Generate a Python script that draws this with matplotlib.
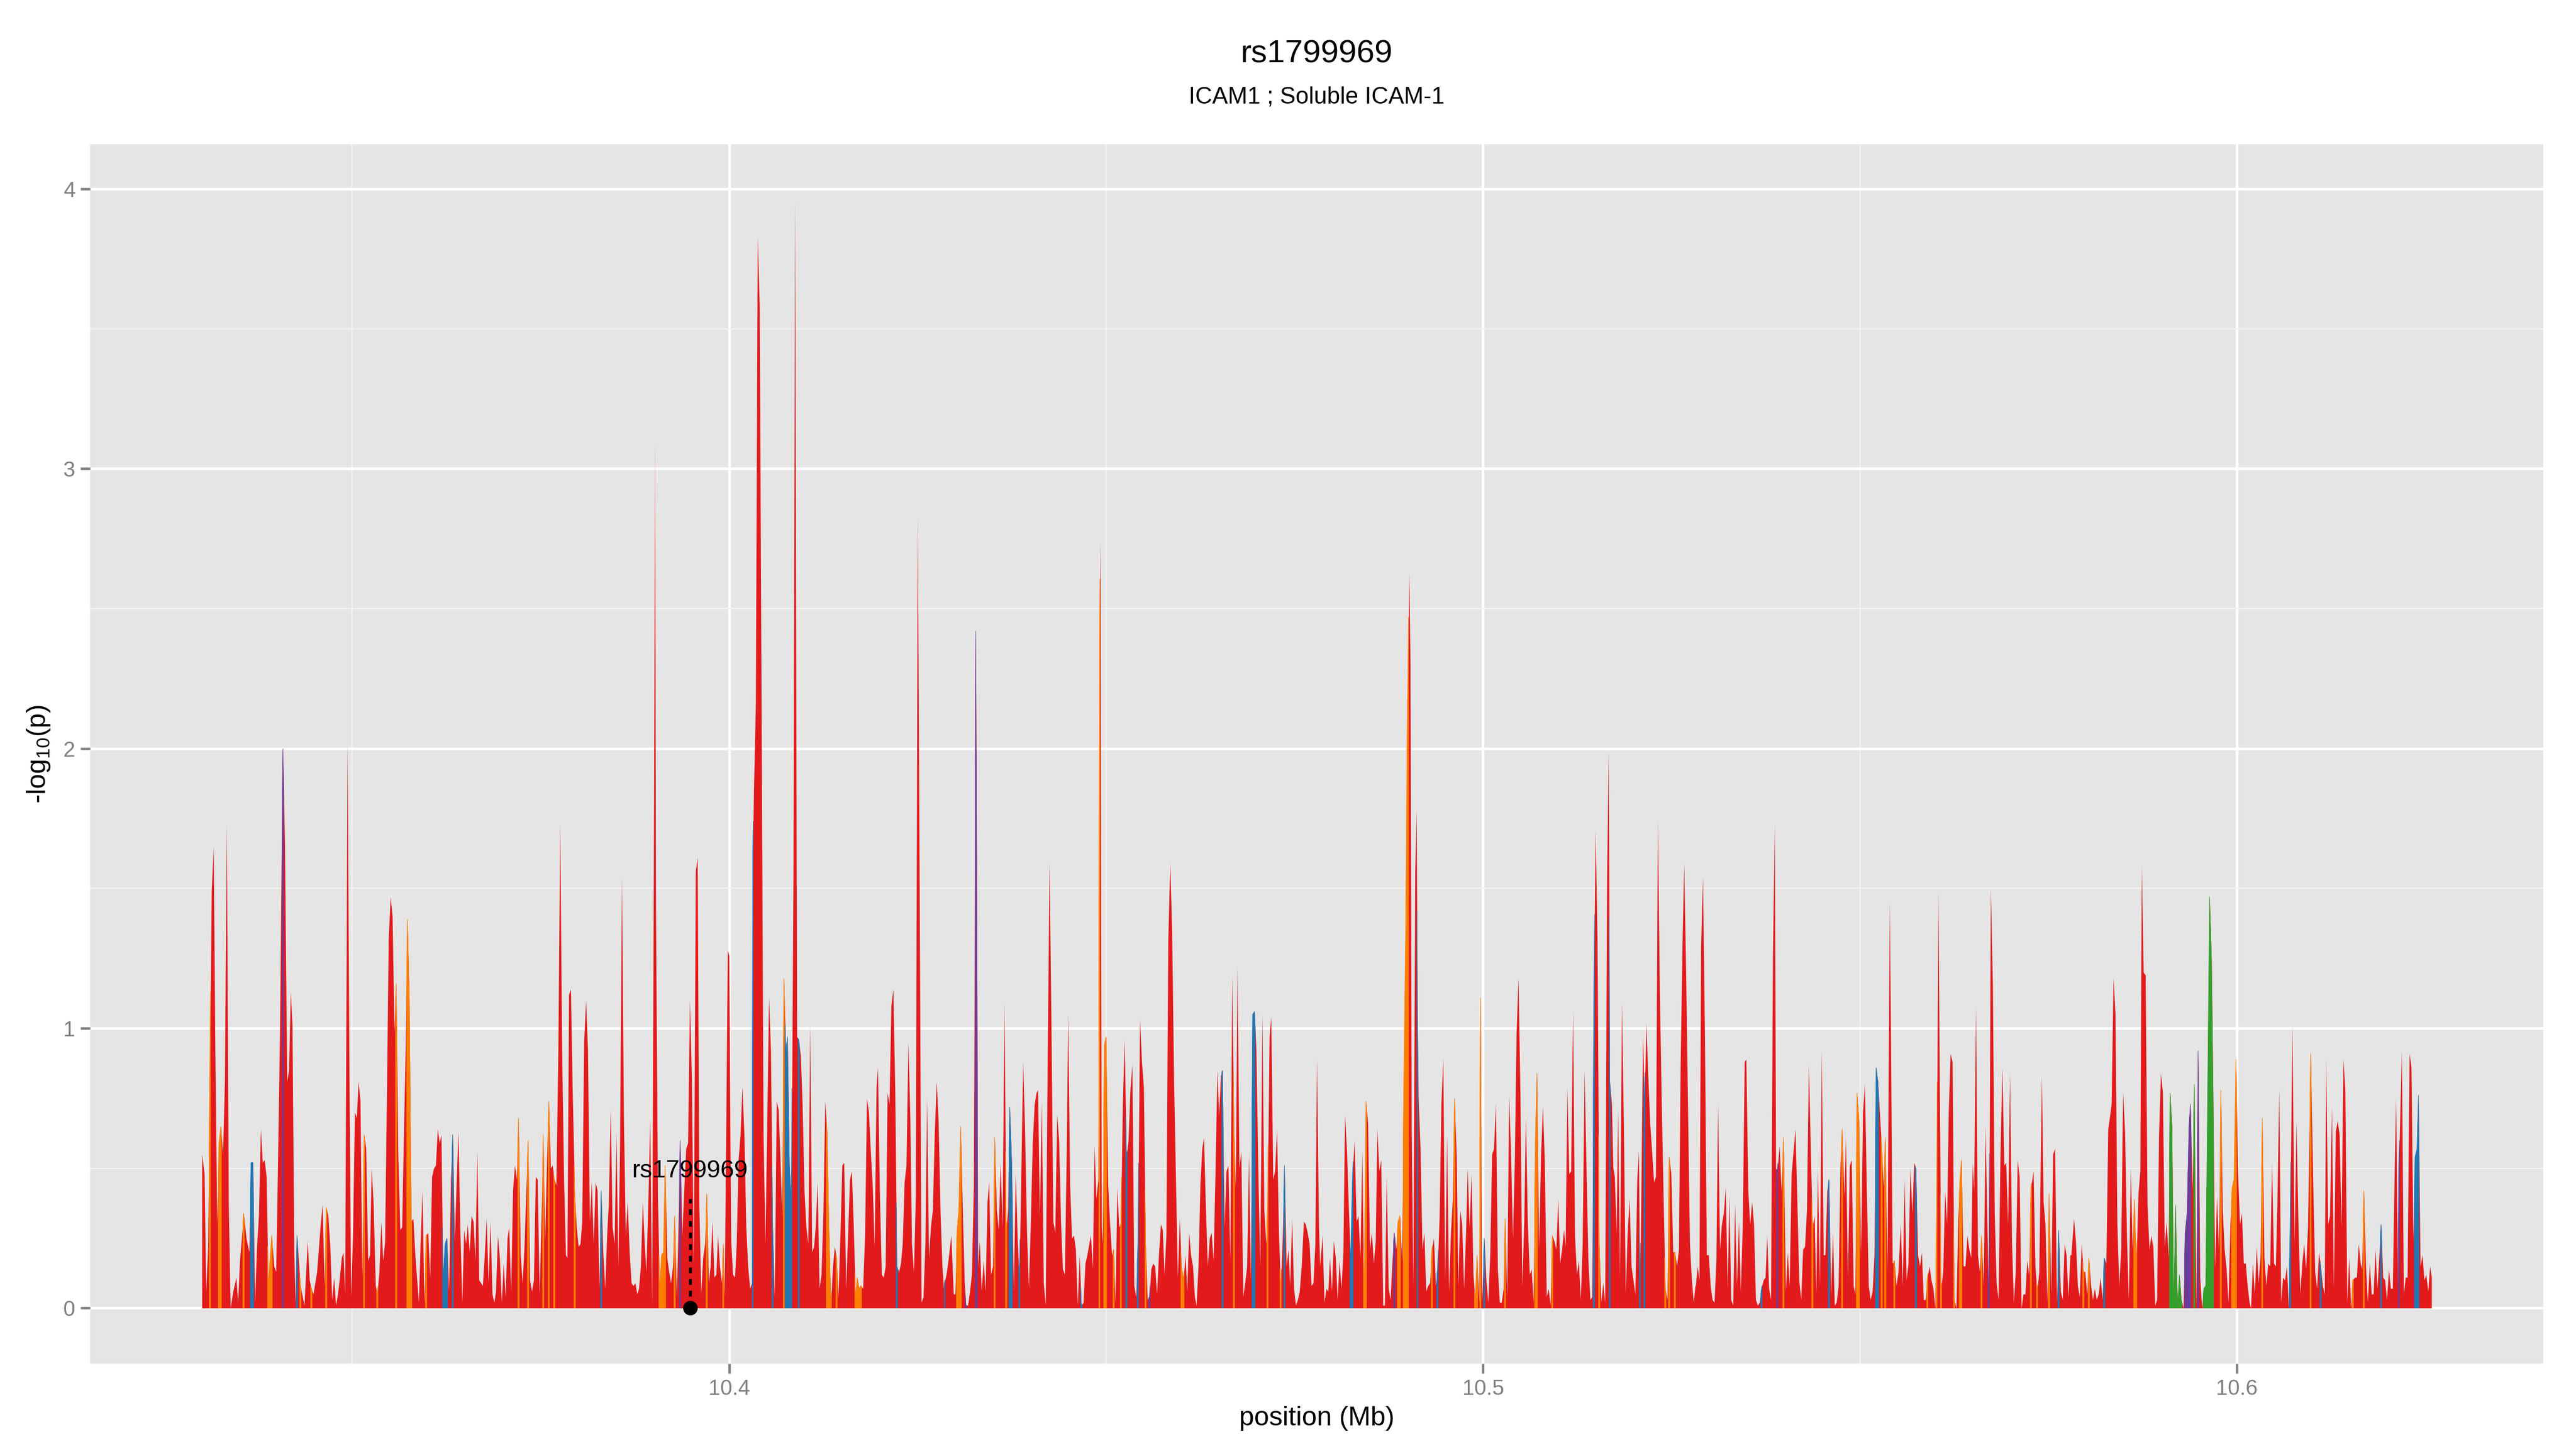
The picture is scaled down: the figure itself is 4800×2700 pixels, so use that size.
import numpy as np
import matplotlib.pyplot as plt
from matplotlib.ticker import MultipleLocator

plt.rcParams['font.family'] = ['Liberation Sans', 'DejaVu Sans']
plt.rcParams['mathtext.default'] = 'regular'

title = "rs1799969"
subtitle = "ICAM1 ; Soluble ICAM-1"
snp_label = "rs1799969"
snp_kb = 10394.80
x_ticks = [10.4, 10.5, 10.6]
y_ticks = [0, 1, 2, 3, 4]

# snp positions (kb) and -log10(p)
position_kb = [
    # 10.330 - 10.379
    10330.05, 10330.37, 10330.59, 10330.85, 10331.10, 10331.32, 10331.58, 10331.80, 10332.05, 10332.31,
    10332.56, 10332.82, 10333.07, 10333.32, 10333.58, 10333.83, 10334.18, 10334.59, 10334.82, 10335.07,
    10335.29, 10335.58, 10335.93, 10336.31, 10336.56, 10336.82, 10337.07, 10337.33, 10337.58, 10337.84,
    10338.09, 10338.34, 10338.60, 10338.85, 10339.30, 10339.61, 10339.87, 10340.12, 10340.38, 10340.63,
    10340.79, 10341.04, 10341.33, 10341.58, 10341.81, 10342.03, 10342.28, 10342.44, 10342.66, 10343.11,
    10343.62, 10344.06, 10344.32, 10344.57, 10344.82, 10345.30, 10345.78, 10346.03, 10346.29, 10346.54,
    10346.79, 10347.05, 10347.30, 10347.56, 10347.81, 10348.07, 10348.32, 10348.57, 10348.80, 10349.02,
    10349.34, 10349.59, 10349.81, 10350.06, 10350.32, 10350.57, 10350.80, 10351.05, 10351.30, 10351.56,
    10351.81, 10352.07, 10352.32, 10352.54, 10352.80, 10353.08, 10353.31, 10353.56, 10353.82, 10354.07,
    10354.32, 10354.55, 10354.80, 10355.06, 10355.31, 10355.56, 10355.82, 10356.07, 10356.33, 10356.58,
    10356.83, 10357.06, 10357.31, 10357.56, 10357.82, 10358.07, 10358.33, 10358.55, 10358.80, 10359.06,
    10359.28, 10359.53, 10359.79, 10360.04, 10360.30, 10360.55, 10360.81, 10361.06, 10361.31, 10361.57,
    10361.79, 10362.04, 10362.30, 10362.55, 10362.81, 10363.06, 10363.32, 10363.57, 10363.82, 10364.05,
    10364.30, 10364.56, 10364.81, 10365.06, 10365.28, 10365.54, 10365.79, 10366.05, 10366.30, 10366.55,
    10366.81, 10367.06, 10367.29, 10367.54, 10367.79, 10368.05, 10368.30, 10368.56, 10368.81, 10369.03,
    10369.29, 10369.54, 10369.80, 10370.05, 10370.30, 10370.56, 10370.78, 10371.04, 10371.29, 10371.54,
    10371.80, 10372.05, 10372.31, 10372.56, 10372.81, 10373.07, 10373.32, 10373.55, 10373.80, 10374.06,
    10374.31, 10374.56, 10374.82, 10375.07, 10375.33, 10375.55, 10375.80, 10376.06, 10376.31, 10376.56,
    10376.79, 10377.04, 10377.30, 10377.55, 10377.80, 10378.06, 10378.31, 10378.50,
    # 10.379 - 10.428
    10378.72, 10378.97, 10379.20, 10379.51, 10379.74, 10379.99, 10380.24, 10380.47, 10380.72, 10380.98,
    10381.23, 10381.48, 10381.74, 10381.99, 10382.25, 10382.50, 10382.75, 10383.01, 10383.26, 10383.52,
    10383.77, 10383.99, 10384.25, 10384.50, 10384.76, 10385.01, 10385.26, 10385.49, 10385.74, 10386.00,
    10386.25, 10386.50, 10386.76, 10387.01, 10387.27, 10387.52, 10387.77, 10388.00, 10388.25, 10388.51,
    10388.76, 10388.98, 10389.24, 10389.49, 10389.74, 10390.00, 10390.13, 10390.25, 10390.51, 10390.76,
    10391.01, 10391.27, 10391.49, 10391.75, 10392.00, 10392.25, 10392.51, 10392.76, 10393.02, 10393.24,
    10393.49, 10393.75, 10394.00, 10394.26, 10394.51, 10394.76, 10395.02, 10395.27, 10395.53, 10395.78,
    10396.00, 10396.26, 10396.51, 10396.77, 10397.02, 10397.27, 10397.50, 10397.75, 10398.00, 10398.26,
    10398.48, 10398.74, 10398.99, 10399.21, 10399.37, 10399.78, 10399.97, 10400.23, 10400.48, 10400.74,
    10400.96, 10401.21, 10401.47, 10401.72, 10401.98, 10402.23, 10402.48, 10402.74, 10402.99, 10403.12,
    10403.25, 10403.50, 10403.75, 10404.01, 10404.26, 10404.52, 10404.77, 10404.99, 10405.25, 10405.50,
    10405.76, 10406.01, 10406.27, 10406.52, 10406.77, 10407.00, 10407.25, 10407.50, 10407.73, 10407.98,
    10408.23, 10408.49, 10408.71, 10408.97, 10409.22, 10409.47, 10409.70, 10409.95, 10410.20, 10410.46,
    10410.71, 10410.97, 10411.22, 10411.44, 10411.70, 10411.95, 10412.21, 10412.46, 10412.71, 10412.97,
    10413.22, 10413.48, 10413.73, 10413.98, 10414.24, 10414.46, 10414.72, 10414.97, 10415.22, 10415.48,
    10415.73, 10415.99, 10416.24, 10416.49, 10416.75, 10416.97, 10417.22, 10417.48, 10417.73, 10417.99,
    10418.24, 10418.50, 10418.75, 10419.00, 10419.26, 10419.51, 10419.70, 10419.96, 10420.21, 10420.47,
    10420.72, 10420.97, 10421.23, 10421.48, 10421.74, 10421.99, 10422.24, 10422.50, 10422.75, 10422.98,
    10423.23, 10423.48, 10423.74, 10423.99, 10424.21, 10424.47, 10424.72, 10424.98, 10425.23, 10425.48,
    10425.74, 10425.99, 10426.22, 10426.47, 10426.72, 10426.98, 10427.23, 10427.49, 10427.74, 10428.00,
    10428.25, 10428.50,
    # 10.428 - 10.478
    10428.54, 10428.79, 10429.05, 10429.30, 10429.43, 10429.75, 10429.97, 10430.22, 10430.45, 10430.70,
    10430.95, 10431.21, 10431.40, 10431.65, 10431.91, 10432.16, 10432.42, 10432.57, 10432.70, 10432.83,
    10432.99, 10433.21, 10433.46, 10433.72, 10433.97, 10434.23, 10434.45, 10434.70, 10434.96, 10435.21,
    10435.47, 10435.72, 10435.97, 10436.23, 10436.48, 10436.74, 10436.96, 10437.21, 10437.47, 10437.72,
    10437.98, 10438.23, 10438.48, 10438.74, 10438.96, 10439.21, 10439.47, 10439.72, 10439.98, 10440.23,
    10440.49, 10440.74, 10440.93, 10441.18, 10441.44, 10441.69, 10441.95, 10442.20, 10442.46, 10442.71,
    10442.96, 10443.22, 10443.47, 10443.73, 10443.98, 10444.23, 10444.49, 10444.74, 10444.93, 10445.19,
    10445.44, 10445.70, 10445.95, 10446.20, 10446.46, 10446.71, 10446.97, 10447.22, 10447.47, 10447.73,
    10447.95, 10448.21, 10448.43, 10448.68, 10448.94, 10449.13, 10449.22, 10449.38, 10449.51, 10449.76,
    10449.98, 10450.24, 10450.49, 10450.75, 10451.00, 10451.22, 10451.45, 10451.70, 10451.95, 10452.18,
    10452.43, 10452.69, 10452.94, 10453.19, 10453.45, 10453.70, 10453.96, 10454.21, 10454.46, 10454.72,
    10454.97, 10455.23, 10455.48, 10455.74, 10455.96, 10456.21, 10456.47, 10456.72, 10456.97, 10457.23,
    10457.48, 10457.71, 10457.96, 10458.21, 10458.47, 10458.72, 10458.98, 10459.23, 10459.48, 10459.74,
    10459.99, 10460.25, 10460.50, 10460.72, 10460.98, 10461.23, 10461.49, 10461.74, 10461.96, 10462.22,
    10462.47, 10462.72, 10462.95, 10463.20, 10463.45, 10463.71, 10463.96, 10464.22, 10464.47, 10464.73,
    10464.95, 10465.20, 10465.43, 10465.68, 10465.93, 10466.19, 10466.44, 10466.70, 10466.95, 10467.17,
    10467.39, 10467.65, 10467.90, 10468.16, 10468.41, 10468.67, 10468.92, 10469.17, 10469.43, 10469.68,
    10469.90, 10470.16, 10470.41, 10470.70, 10470.95, 10471.21, 10471.40, 10471.65, 10471.87, 10472.13,
    10472.38, 10472.64, 10472.89, 10473.15, 10473.40, 10473.65, 10473.91, 10474.16, 10474.38, 10474.64,
    10474.89, 10475.15, 10475.40, 10475.65, 10475.91, 10476.20, 10476.45, 10476.70, 10476.96, 10477.21,
    10477.47, 10477.72, 10477.94, 10478.20,
    # 10.478 - 10.528
    10478.36, 10478.68, 10478.93, 10479.19, 10479.44, 10479.66, 10479.92, 10480.17, 10480.43, 10480.68,
    10480.93, 10481.19, 10481.44, 10481.66, 10481.92, 10482.17, 10482.43, 10482.68, 10482.93, 10483.19,
    10483.44, 10483.70, 10483.95, 10484.21, 10484.46, 10484.71, 10484.97, 10485.22, 10485.48, 10485.73,
    10485.95, 10486.21, 10486.46, 10486.72, 10486.94, 10487.19, 10487.45, 10487.70, 10487.95, 10488.21,
    10488.46, 10488.72, 10488.97, 10489.23, 10489.48, 10489.73, 10489.92, 10490.05, 10490.18, 10490.34,
    10490.50, 10490.72, 10490.97, 10491.16, 10491.29, 10491.42, 10491.67, 10491.93, 10492.18, 10492.43,
    10492.69, 10492.94, 10493.20, 10493.45, 10493.71, 10493.96, 10494.21, 10494.44, 10494.69, 10494.94,
    10495.20, 10495.45, 10495.71, 10495.96, 10496.21, 10496.47, 10496.69, 10496.95, 10497.20, 10497.45,
    10497.71, 10497.93, 10498.18, 10498.44, 10498.69, 10498.95, 10499.20, 10499.46, 10499.65, 10499.84,
    10500.15, 10500.41, 10500.66, 10500.92, 10501.17, 10501.42, 10501.68, 10501.93, 10502.19, 10502.44,
    10502.70, 10502.92, 10503.17, 10503.43, 10503.68, 10503.93, 10504.19, 10504.41, 10504.67, 10504.92,
    10505.17, 10505.43, 10505.65, 10505.90, 10506.16, 10506.41, 10506.67, 10506.92, 10507.14, 10507.40,
    10507.65, 10507.91, 10508.16, 10508.41, 10508.67, 10508.92, 10509.18, 10509.43, 10509.69, 10509.94,
    10510.19, 10510.45, 10510.70, 10510.92, 10511.15, 10511.40, 10511.65, 10511.91, 10512.16, 10512.42,
    10512.67, 10512.93, 10513.18, 10513.43, 10513.69, 10513.94, 10514.20, 10514.45, 10514.70, 10514.90,
    10515.15, 10515.40, 10515.66, 10515.91, 10516.17, 10516.42, 10516.64, 10516.80, 10517.06, 10517.25,
    10517.44, 10517.69, 10517.88, 10518.14, 10518.39, 10518.65, 10518.90, 10519.15, 10519.41, 10519.66,
    10519.92, 10520.17, 10520.42, 10520.65, 10520.80, 10521.19, 10521.41, 10521.63, 10521.88, 10522.14,
    10522.39, 10522.65, 10522.90, 10523.16, 10523.41, 10523.66, 10523.92, 10524.17, 10524.43, 10524.68,
    10524.94, 10525.19, 10525.44, 10525.70, 10525.95, 10526.17, 10526.43, 10526.65, 10526.90, 10527.16,
    10527.41, 10527.67, 10527.92, 10528.14,
    # 10.528 - 10.578
    10528.19, 10528.44, 10528.67, 10528.89, 10529.14, 10529.40, 10529.65, 10529.91, 10530.16, 10530.41,
    10530.67, 10530.92, 10531.14, 10531.40, 10531.65, 10531.91, 10532.16, 10532.42, 10532.64, 10532.89,
    10533.15, 10533.40, 10533.65, 10533.91, 10534.16, 10534.42, 10534.67, 10534.89, 10535.15, 10535.40,
    10535.66, 10535.91, 10536.16, 10536.42, 10536.67, 10536.93, 10537.18, 10537.44, 10537.66, 10537.91,
    10538.17, 10538.42, 10538.67, 10538.83, 10539.02, 10539.31, 10539.56, 10539.85, 10540.14, 10540.39,
    10540.64, 10540.90, 10541.15, 10541.41, 10541.66, 10541.91, 10542.17, 10542.42, 10542.68, 10542.93,
    10543.19, 10543.44, 10543.69, 10543.95, 10544.17, 10544.39, 10544.65, 10544.90, 10545.15, 10545.38,
    10545.63, 10545.89, 10546.14, 10546.39, 10546.62, 10546.87, 10547.13, 10547.38, 10547.63, 10547.89,
    10548.11, 10548.36, 10548.62, 10548.87, 10549.13, 10549.35, 10549.60, 10549.86, 10550.11, 10550.37,
    10550.62, 10550.87, 10551.13, 10551.38, 10551.64, 10551.89, 10552.14, 10552.37, 10552.62, 10552.88,
    10553.13, 10553.35, 10553.61, 10553.80, 10553.92, 10554.08, 10554.30, 10554.56, 10554.81, 10555.07,
    10555.38, 10555.64, 10555.89, 10556.15, 10556.40, 10556.66, 10556.91, 10557.16, 10557.42, 10557.67,
    10557.93, 10558.18, 10558.43, 10558.69, 10558.94, 10559.20, 10559.45, 10559.71, 10559.96, 10560.15,
    10560.37, 10560.56, 10560.75, 10561.01, 10561.26, 10561.52, 10561.74, 10561.99, 10562.25, 10562.50,
    10562.76, 10563.01, 10563.26, 10563.45, 10563.71, 10563.96, 10564.22, 10564.47, 10564.73, 10564.92,
    10565.11, 10565.36, 10565.62, 10565.87, 10566.12, 10566.38, 10566.63, 10566.89, 10567.08, 10567.33,
    10567.59, 10567.84, 10568.09, 10568.35, 10568.60, 10568.86, 10569.11, 10569.36, 10569.62, 10569.87,
    10570.13, 10570.38, 10570.63, 10570.89, 10571.14, 10571.40, 10571.65, 10571.91, 10572.16, 10572.41,
    10572.67, 10572.99, 10573.24, 10573.49, 10573.75, 10574.10, 10574.32, 10574.57, 10574.83, 10575.08,
    10575.34, 10575.59, 10575.85, 10576.10, 10576.35, 10576.61, 10576.86, 10577.12, 10577.37, 10577.62,
    10577.88,
    # 10.578 - 10.626
    10578.01, 10578.36, 10578.61, 10578.87, 10579.12, 10579.38, 10579.63, 10579.85, 10580.11, 10580.36,
    10580.62, 10580.87, 10581.12, 10581.38, 10581.63, 10581.89, 10582.14, 10582.39, 10582.65, 10582.90,
    10583.16, 10583.35, 10583.60, 10583.86, 10584.11, 10584.36, 10584.62, 10584.87, 10585.13, 10585.38,
    10585.63, 10585.89, 10586.14, 10586.40, 10586.65, 10586.91, 10587.16, 10587.35, 10587.60, 10587.86,
    10588.11, 10588.37, 10588.62, 10588.88, 10589.13, 10589.38, 10589.64, 10589.89, 10590.15, 10590.40,
    10590.65, 10590.91, 10591.13, 10591.38, 10591.61, 10591.86, 10592.12, 10592.37, 10592.62, 10592.88,
    10593.13, 10593.39, 10593.64, 10593.83, 10594.09, 10594.34, 10594.59, 10594.85, 10595.10, 10595.36,
    10595.61, 10595.86, 10596.12, 10596.37, 10596.63, 10596.82, 10597.07, 10597.33, 10597.58, 10597.87,
    10598.09, 10598.34, 10598.60, 10598.85, 10599.11, 10599.36, 10599.61, 10599.87, 10600.12, 10600.38,
    10600.63, 10600.88, 10601.14, 10601.39, 10601.65, 10601.84, 10602.09, 10602.35, 10602.60, 10602.85,
    10603.11, 10603.36, 10603.62, 10603.87, 10604.12, 10604.38, 10604.63, 10604.89, 10605.14, 10605.33,
    10605.59, 10605.84, 10606.09, 10606.35, 10606.60, 10606.86, 10607.05, 10607.33, 10607.62, 10607.87,
    10608.13, 10608.38, 10608.64, 10608.89, 10609.14, 10609.40, 10609.78, 10610.10, 10610.35, 10610.61,
    10610.86, 10611.11, 10611.37, 10611.62, 10611.81, 10612.07, 10612.32, 10612.58, 10612.83, 10613.08,
    10613.34, 10613.59, 10613.85, 10614.10, 10614.35, 10614.61, 10614.86, 10615.12, 10615.37, 10615.63,
    10615.88, 10616.13, 10616.39, 10616.58, 10616.83, 10617.09, 10617.34, 10617.60, 10617.85, 10618.10,
    10618.36, 10618.61, 10618.87, 10619.12, 10619.37, 10619.63, 10619.88, 10620.14, 10620.39, 10620.65,
    10620.90, 10621.09, 10621.34, 10621.47, 10621.85, 10622.11, 10622.36, 10622.61, 10622.87, 10623.12,
    10623.38, 10623.63, 10623.89, 10624.08, 10624.33, 10624.59, 10624.84, 10625.09, 10625.35, 10625.60,
    10625.82,
]

neg_log10_p = [
    # 10.330 - 10.379
    0.55, 0.48, 0.06, 0.22, 0.88, 1.49, 1.65, 0.92, 0.30, 0.59,
    0.65, 0.55, 0.81, 1.73, 0.37, 0.00, 0.06, 0.11, 0.02, 0.17,
    0.24, 0.34, 0.25, 0.20, 0.52, 0.52, 0.02, 0.22, 0.33, 0.64,
    0.52, 0.53, 0.47, 0.08, 0.26, 0.15, 0.13, 0.53, 0.99, 1.71,
    2.00, 1.65, 0.81, 0.85, 1.13, 1.01, 0.19, 0.02, 0.26, 0.08,
    0.01, 0.24, 0.10, 0.07, 0.05, 0.13, 0.30, 0.37, 0.08, 0.36,
    0.33, 0.22, 0.03, 0.11, 0.01, 0.05, 0.11, 0.18, 0.20, 0.05,
    2.02, 0.83, 0.04, 0.26, 0.70, 0.68, 0.81, 0.74, 0.11, 0.62,
    0.57, 0.17, 0.19, 0.50, 0.37, 0.08, 0.05, 0.13, 0.31, 0.17,
    0.24, 0.74, 1.32, 1.47, 1.40, 0.99, 1.16, 0.55, 0.28, 0.29,
    0.64, 0.94, 1.39, 1.10, 0.31, 0.32, 0.19, 0.11, 0.02, 0.26,
    0.42, 0.02, 0.26, 0.27, 0.11, 0.47, 0.50, 0.51, 0.64, 0.59,
    0.62, 0.10, 0.23, 0.25, 0.06, 0.46, 0.62, 0.24, 0.46, 0.63,
    0.28, 0.02, 0.28, 0.23, 0.30, 0.20, 0.33, 0.31, 0.17, 0.56,
    0.10, 0.09, 0.08, 0.19, 0.32, 0.09, 0.31, 0.05, 0.02, 0.06,
    0.26, 0.18, 0.02, 0.16, 0.04, 0.25, 0.29, 0.06, 0.42, 0.51,
    0.46, 0.68, 0.19, 0.09, 0.22, 0.43, 0.60, 0.10, 0.06, 0.10,
    0.47, 0.46, 0.05, 0.32, 0.62, 0.24, 0.53, 0.74, 0.50, 0.51,
    0.46, 0.44, 0.92, 1.73, 0.92, 0.46, 0.19, 0.18,
    # 10.379 - 10.428
    1.12, 1.14, 0.78, 0.40, 0.29, 0.22, 0.23, 0.31, 0.95, 1.10,
    0.92, 0.31, 0.45, 0.23, 0.45, 0.42, 0.07, 0.42, 0.20, 0.07,
    0.26, 0.37, 0.71, 0.29, 0.23, 0.63, 0.15, 0.59, 1.54, 0.67,
    0.26, 0.38, 0.20, 0.09, 0.08, 0.09, 0.05, 0.07, 0.15, 0.38,
    0.23, 0.13, 0.38, 0.68, 0.01, 1.83, 3.10, 1.44, 0.40, 0.07,
    0.19, 0.20, 0.51, 0.18, 0.13, 0.09, 0.15, 0.33, 0.04, 0.29,
    0.60, 0.26, 0.42, 0.57, 0.59, 1.10, 0.81, 0.15, 1.56, 1.61,
    0.37, 0.05, 0.18, 0.23, 0.41, 0.09, 0.15, 0.31, 0.11, 0.12,
    0.26, 0.15, 0.09, 0.23, 0.04, 1.28, 1.26, 0.24, 0.12, 0.11,
    0.23, 0.53, 0.62, 0.79, 0.62, 0.29, 0.15, 0.07, 0.09, 1.63,
    1.85, 2.16, 3.83, 3.58, 2.16, 0.62, 0.23, 0.62, 1.11, 0.92,
    0.29, 0.04, 0.74, 0.71, 0.53, 0.33, 1.18, 0.92, 0.97, 0.51,
    0.38, 1.55, 3.96, 0.97, 0.96, 0.90, 0.73, 0.42, 0.29, 0.23,
    1.01, 0.20, 0.22, 0.29, 0.45, 0.07, 0.12, 0.34, 0.74, 0.63,
    0.29, 0.01, 0.15, 0.22, 0.18, 0.04, 0.26, 0.51, 0.52, 0.07,
    0.26, 0.46, 0.49, 0.29, 0.04, 0.11, 0.07, 0.08, 0.07, 0.26,
    0.75, 0.70, 0.56, 0.44, 0.22, 0.79, 0.86, 0.40, 0.12, 0.11,
    0.15, 0.77, 0.73, 1.08, 1.14, 0.78, 0.15, 0.13, 0.16, 0.23,
    0.45, 0.51, 0.95, 0.68, 0.23, 0.13, 0.40, 2.83, 1.50, 0.02,
    0.04, 0.23, 0.75, 0.18, 0.29, 0.35, 0.62, 0.81, 0.67, 0.34,
    0.15, 0.05,
    # 10.428 - 10.478
    0.09, 0.12, 0.17, 0.23, 0.26, 0.05, 0.05, 0.28, 0.35, 0.65,
    0.35, 0.09, 0.01, 0.01, 0.06, 0.12, 0.44, 1.47, 2.42, 1.56,
    0.15, 0.24, 0.06, 0.17, 0.06, 0.38, 0.45, 0.12, 0.15, 0.61,
    0.35, 0.28, 0.52, 0.29, 1.09, 0.28, 0.35, 0.72, 0.52, 0.06,
    0.48, 0.25, 0.10, 0.52, 0.88, 0.64, 0.27, 0.07, 0.31, 0.59,
    0.73, 0.77, 0.78, 0.33, 0.74, 0.09, 0.01, 0.85, 1.59, 1.02,
    0.31, 0.27, 0.69, 0.60, 0.31, 0.14, 0.12, 0.56, 1.05, 0.44,
    0.25, 0.26, 0.21, 0.01, 0.19, 0.01, 0.02, 0.16, 0.19, 0.23,
    0.26, 0.14, 0.58, 0.39, 0.46, 2.47, 2.74, 0.29, 0.23, 0.94,
    0.97, 0.44, 0.30, 0.19, 0.21, 0.02, 0.43, 0.29, 0.30, 0.73,
    0.96, 0.54, 0.60, 0.78, 0.87, 0.08, 0.04, 0.23, 1.03, 0.88,
    0.79, 0.23, 0.03, 0.04, 0.14, 0.16, 0.15, 0.05, 0.19, 0.30,
    0.28, 0.12, 0.26, 1.31, 1.59, 1.35, 0.81, 0.46, 0.11, 0.32,
    0.15, 0.10, 0.19, 0.06, 0.27, 0.19, 0.15, 0.04, 0.01, 0.15,
    0.44, 0.57, 0.61, 0.36, 0.15, 0.25, 0.27, 0.17, 0.48, 0.85,
    0.69, 0.83, 0.85, 0.29, 0.49, 0.51, 0.17, 1.19, 0.64, 0.43,
    1.22, 0.50, 0.56, 0.04, 0.09, 0.15, 0.55, 0.10, 1.05, 1.06,
    0.92, 0.48, 0.15, 1.05, 0.35, 0.23, 0.37, 0.97, 1.04, 0.46,
    0.49, 0.64, 0.27, 0.07, 0.26, 0.51, 0.15, 0.21, 0.08, 0.32,
    0.07, 0.01, 0.03, 0.06, 0.15, 0.31, 0.30, 0.27, 0.23, 0.08,
    0.09, 0.23, 0.89, 0.29,
    # 10.478 - 10.528
    0.15, 0.26, 0.02, 0.07, 0.06, 0.18, 0.06, 0.24, 0.18, 0.03,
    0.17, 0.07, 0.20, 0.69, 0.56, 0.35, 0.17, 0.48, 0.60, 0.31,
    0.33, 0.18, 0.56, 0.02, 0.74, 0.66, 0.21, 0.27, 0.16, 0.24,
    0.64, 0.49, 0.53, 0.01, 0.01, 0.47, 0.07, 0.03, 0.17, 0.27,
    0.21, 0.31, 0.33, 0.17, 0.81, 1.35, 2.04, 2.31, 2.63, 2.31,
    0.64, 0.08, 1.56, 1.78, 1.06, 0.75, 0.57, 0.21, 0.27, 0.06,
    0.08, 0.09, 0.21, 0.25, 0.08, 0.14, 0.33, 0.73, 0.89, 0.10,
    0.62, 0.06, 0.27, 0.39, 0.75, 0.54, 0.08, 0.35, 0.30, 0.07,
    0.27, 0.50, 0.29, 0.48, 0.12, 0.03, 0.19, 0.02, 1.11, 0.02,
    0.25, 0.10, 0.02, 0.19, 0.55, 0.57, 0.73, 0.14, 0.02, 0.02,
    0.07, 0.32, 0.04, 0.76, 0.55, 0.25, 0.54, 0.98, 1.18, 0.77,
    0.08, 0.31, 0.69, 0.31, 0.12, 0.14, 0.02, 0.58, 0.84, 0.21,
    0.54, 0.72, 0.52, 0.04, 0.07, 0.01, 0.26, 0.24, 0.21, 0.39,
    0.16, 0.21, 0.28, 0.22, 0.79, 0.48, 0.49, 1.06, 0.26, 0.12,
    0.17, 0.03, 0.23, 0.85, 0.50, 0.17, 0.03, 0.04, 1.16, 1.71,
    1.31, 0.23, 0.02, 0.09, 0.02, 1.54, 1.99, 0.81, 0.73, 0.50,
    0.47, 0.27, 0.71, 0.11, 1.09, 0.64, 0.05, 0.27, 0.39, 0.15,
    0.10, 0.05, 0.46, 0.56, 0.01, 0.98, 0.72, 1.02, 0.83, 0.66,
    0.56, 0.45, 0.47, 1.74, 1.14, 0.75, 0.39, 0.07, 0.03, 0.54,
    0.48, 0.20, 0.20, 0.15, 0.21, 0.86, 1.31, 1.59, 1.20, 0.71,
    0.23, 0.10, 0.02, 0.08,
    # 10.528 - 10.578
    0.08, 0.15, 0.10, 1.29, 1.54, 0.97, 0.19, 0.19, 0.08, 0.03,
    0.02, 0.17, 0.73, 0.21, 0.30, 0.34, 0.43, 0.07, 0.40, 0.03,
    0.01, 0.37, 0.08, 0.31, 0.06, 0.30, 0.88, 0.89, 0.42, 0.30,
    0.38, 0.30, 0.03, 0.01, 0.02, 0.07, 0.10, 0.11, 0.26, 0.07,
    0.03, 1.26, 1.73, 0.50, 0.49, 0.58, 0.42, 0.61, 0.06, 0.20,
    0.08, 0.48, 0.56, 0.64, 0.38, 0.10, 0.03, 0.21, 0.22, 0.35,
    0.87, 0.57, 0.29, 0.33, 0.05, 0.50, 0.08, 0.92, 0.19, 0.19,
    0.42, 0.46, 0.05, 0.27, 0.01, 0.02, 0.08, 0.51, 0.64, 0.40,
    0.61, 0.10, 0.51, 0.53, 0.08, 0.05, 0.77, 0.67, 0.19, 0.70,
    0.80, 0.43, 0.08, 0.03, 0.06, 0.19, 0.86, 0.81, 0.69, 0.57,
    0.43, 0.61, 0.13, 0.94, 1.45, 0.96, 0.16, 0.17, 0.08, 0.13,
    0.30, 0.08, 0.46, 0.10, 0.16, 0.50, 0.34, 0.52, 0.50, 0.19,
    0.15, 0.20, 0.03, 0.03, 0.11, 0.15, 0.10, 0.07, 0.00, 0.34,
    1.49, 0.78, 0.07, 0.13, 0.42, 0.30, 0.70, 0.91, 0.88, 0.03,
    0.00, 0.32, 0.46, 0.53, 0.15, 0.15, 0.26, 0.21, 0.18, 0.52,
    0.42, 1.08, 0.19, 0.13, 0.26, 0.08, 0.65, 0.27, 0.02, 1.50,
    1.16, 0.34, 0.09, 0.03, 0.54, 0.86, 0.51, 0.52, 0.30, 0.84,
    0.24, 0.02, 0.13, 0.53, 0.47, 0.00, 0.05, 0.05, 0.17, 0.12,
    0.43, 0.49, 0.15, 0.06, 0.13, 0.83, 0.38, 0.30, 0.02, 0.41,
    0.05, 0.55, 0.57, 0.02, 0.28, 0.06, 0.03, 0.23, 0.19, 0.04,
    0.19,
    # 10.578 - 10.626
    0.19, 0.32, 0.24, 0.08, 0.04, 0.23, 0.13, 0.13, 0.05, 0.18,
    0.08, 0.03, 0.07, 0.03, 0.05, 0.11, 0.03, 0.18, 0.16, 0.64,
    0.69, 0.73, 1.18, 1.05, 0.30, 0.08, 0.21, 0.77, 0.63, 0.26,
    0.03, 0.50, 0.21, 0.39, 0.15, 0.41, 0.49, 1.58, 1.20, 1.19,
    0.37, 0.21, 0.26, 0.22, 0.01, 0.03, 0.62, 0.84, 0.77, 0.22,
    0.31, 0.18, 0.77, 0.65, 0.00, 0.37, 0.00, 0.12, 0.03, 0.00,
    0.27, 0.34, 0.65, 0.73, 0.42, 0.80, 0.00, 0.92, 0.11, 0.00,
    0.07, 0.08, 0.78, 1.47, 1.24, 0.81, 0.14, 0.40, 0.21, 0.78,
    0.35, 0.21, 0.14, 0.02, 0.30, 0.43, 0.46, 0.89, 0.48, 0.30,
    0.34, 0.16, 0.16, 0.08, 0.02, 0.00, 0.16, 0.05, 0.22, 0.09,
    0.19, 0.68, 0.18, 0.08, 0.16, 0.15, 0.52, 0.16, 0.15, 0.37,
    0.78, 0.02, 0.11, 0.10, 0.15, 0.00, 0.29, 1.01, 0.23, 0.67,
    0.30, 0.05, 0.16, 0.23, 0.14, 0.29, 0.91, 0.43, 0.13, 0.07,
    0.20, 0.15, 0.08, 0.05, 0.89, 0.30, 0.33, 0.72, 0.07, 0.63,
    0.67, 0.62, 0.29, 0.89, 0.78, 0.02, 0.18, 0.00, 0.10, 0.11,
    0.11, 0.23, 0.16, 0.14, 0.42, 0.15, 0.02, 0.16, 0.05, 0.05,
    0.21, 0.07, 0.19, 0.30, 0.11, 0.10, 0.03, 0.14, 0.07, 0.07,
    0.50, 0.75, 0.07, 0.50, 0.92, 0.05, 0.11, 0.11, 0.91, 0.86,
    0.24, 0.54, 0.57, 0.76, 0.15, 0.19, 0.10, 0.12, 0.06, 0.15,
    0.11,
]

# snps (kb) in the other LD classes; everything else is drawn red
ld_orange = [10331.10, 10332.31, 10332.56, 10335.58, 10338.85, 10339.30, 10343.11, 10344.57, 10346.54, 10351.56,
             10353.31, 10355.82, 10357.31, 10357.56, 10357.82, 10359.79, 10372.05, 10373.32, 10375.33, 10376.06,
             10376.79, 10379.51, 10390.76, 10391.01, 10391.27, 10391.49, 10392.76, 10397.02, 10399.21,
             10407.25, 10412.97, 10413.22, 10413.48, 10414.24, 10416.75, 10416.97, 10417.22, 10417.48, 10430.22,
             10430.45, 10430.70, 10435.21, 10436.74, 10449.13, 10449.76, 10449.98, 10451.00, 10451.95,
             10455.23, 10459.99, 10460.25, 10466.95, 10471.40, 10473.15, 10484.21, 10484.46, 10488.72, 10488.97,
             10489.48, 10489.73, 10489.92, 10490.05, 10493.20, 10496.21, 10498.95, 10499.20, 10499.65, 10502.92,
             10506.92, 10507.14, 10509.18, 10515.40, 10524.17, 10524.68, 10525.44, 10539.85, 10543.69, 10547.63,
             10549.60, 10549.86, 10552.88, 10553.35, 10554.56, 10558.94, 10560.15, 10560.75, 10562.50, 10563.26,
             10563.45, 10566.12, 10572.67, 10573.49, 10575.08, 10579.63, 10580.36, 10586.40, 10586.65, 10597.87,
             10599.36, 10599.61, 10599.87, 10603.36, 10609.78, 10615.37, 10616.83]
ld_blue = [10336.56, 10336.82, 10342.66, 10362.04, 10362.30, 10362.55, 10363.32, 10383.01, 10403.12, 10405.76,
           10407.50, 10407.73, 10407.98, 10408.23, 10409.22, 10422.24, 10428.54, 10437.21, 10437.47, 10438.48,
           10446.71, 10452.69, 10454.21, 10465.43, 10469.43, 10469.68, 10473.65, 10482.43, 10482.68, 10491.29,
           10493.96, 10500.15, 10514.70, 10516.80, 10520.80, 10521.41, 10536.93, 10545.89, 10552.14, 10552.37,
           10557.42, 10576.35, 10582.39, 10607.05, 10611.11, 10619.12, 10623.63, 10623.89, 10624.08]
ld_purple = [10340.79, 10393.49, 10431.40, 10432.70, 10432.83, 10455.74, 10488.21, 10539.02, 10567.08, 10593.13,
             10593.39, 10593.64, 10593.83, 10594.85, 10621.47]
ld_green = [10591.13, 10591.38, 10591.61, 10591.86, 10592.12, 10592.37, 10592.62, 10594.34, 10595.61, 10595.86,
            10596.12, 10596.37, 10596.63, 10596.82]

RED = '#E31A1C'
pos = np.array(position_kb) / 1000.0
lp = np.array(neg_log10_p)
n = len(pos)

colour = np.array([RED] * n, dtype=object)
for snps, col in [(ld_orange, '#FF7F00'), (ld_blue, '#1F78B4'),
                  (ld_purple, '#6A3D9A'), (ld_green, '#33A02C')]:
    for s in snps:
        colour[np.argmin(np.abs(pos - s / 1000.0))] = col

fig, ax = plt.subplots(figsize=(16, 9), dpi=300)
fig.subplots_adjust(left=0.0351, right=0.9872, top=0.9002, bottom=0.059)
ax.set_facecolor('#E5E5E5')

ax.fill_between(pos, lp, 0, color=RED, lw=0)

# coloured snps: a thin slice of the area, joined up when neighbours share a colour
mid_x = np.concatenate([[pos[0]], (pos[:-1] + pos[1:]) / 2, [pos[-1]]])
w = 0.00009
for i in range(n):
    if colour[i] == RED:
        continue
    if i > 0 and colour[i - 1] == colour[i]:
        xl = mid_x[i]
    else:
        xl = max(mid_x[i], pos[i] - w)
    if i < n - 1 and colour[i + 1] == colour[i]:
        xr = mid_x[i + 1]
    else:
        xr = min(mid_x[i + 1], pos[i] + w)
    yl = np.interp(xl, pos, lp)
    yr = np.interp(xr, pos, lp)
    ax.fill([xl, xl, pos[i], xr, xr], [0, yl, lp[i], yr, 0], color=colour[i], lw=0.2)

# the query snp
snp_x = snp_kb / 1000.0
ax.plot([snp_x, snp_x], [0, 0.39], color='black', lw=1.3, ls=(0, (2, 2)))
ax.plot(snp_x, 0, 'o', color='black', ms=5.5)
ax.text(snp_x, 0.49, snp_label, ha='center', va='center', fontsize=11)

xpad = 0.05 * (pos.max() - pos.min())
ax.set_xlim(pos.min() - xpad, pos.max() + xpad)
ax.set_ylim(-0.05 * lp.max(), 1.05 * lp.max())

ax.set_xticks(x_ticks)
ax.set_xticklabels([str(t) for t in x_ticks])
ax.set_yticks(y_ticks)
ax.xaxis.set_minor_locator(MultipleLocator(0.05))
ax.yaxis.set_minor_locator(MultipleLocator(0.5))
ax.set_axisbelow(True)
ax.grid(which='major', color='white', lw=1.2)
ax.grid(which='minor', color='#F2F2F2', lw=0.55)
ax.tick_params(which='major', color='#7F7F7F', labelcolor='#7F7F7F', length=4.3,
               width=1.1, labelsize=9.6, pad=2.5)
ax.tick_params(which='minor', length=0)
for sp in ax.spines.values():
    sp.set_visible(False)

ax.set_xlabel('position (Mb)', fontsize=12, labelpad=3)
ax.set_ylabel('-log$_{10}$(p)', fontsize=12, labelpad=5)

ax.text(0.5, 1.074, title, transform=ax.transAxes, ha='center', va='center', fontsize=14.4)
ax.text(0.5, 1.039, subtitle, transform=ax.transAxes, ha='center', va='center', fontsize=10.5)

fig.savefig('out.png', dpi=300)
